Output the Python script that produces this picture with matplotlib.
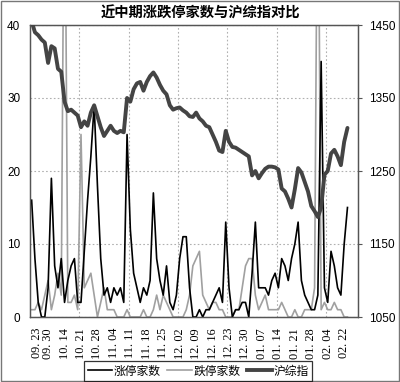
import matplotlib
matplotlib.use('Agg')
import matplotlib.pyplot as plt
import numpy as np
from matplotlib.lines import Line2D
from matplotlib.patches import Rectangle

plt.rcParams['font.family'] = ['Liberation Sans', 'Noto Sans CJK SC', 'DejaVu Sans']

# ---- data ----
date_labels = ['09. 23', '09. 30', '10. 14', '10. 21', '10. 28', '11. 04', '11. 11',
               '11. 18', '11. 25', '12. 02', '12. 09', '12. 16', '12. 23', '12. 30',
               '01. 07', '01. 14', '01. 21', '01. 28', '02. 04', '02. 22']
label_idx = [1.5, 5, 10, 15, 20, 25, 30, 35, 40, 45, 50, 55, 60, 65, 70, 75, 80, 85, 90, 95]

# 涨停家数 (black thin line, left axis)
zt = [16, 8, 2, 0, 0, 4, 19, 7, 4, 8, 2, 5, 7, 8, 2, 2, 9, 16, 22, 29,
      18, 8, 3, 4, 2, 4, 3, 4, 2, 25, 12, 6, 4, 2, 4, 3, 5, 17, 8, 5,
      3, 7, 2, 1, 3, 8, 11, 11, 4, 0, 0, 1, 0, 1, 1, 2, 3, 4, 2, 13,
      4, 0, 1, 1, 2, 2, 0, 6, 13, 4, 4, 4, 3, 5, 6, 4, 8, 7, 5, 8,
      10, 13, 5, 3, 2, 1, 1, 3, 35, 4, 2, 9, 7, 4, 3, 10, 15]

# 跌停家数 (gray thin line, left axis)
dt = [1, 1, 2, 1, 3, 5, 1, 3, 6, 3, 70, 2, 2, 3, 1, 25, 4, 5, 6, 3,
      0, 2, 4, 1, 1, 1, 0, 0, 0, 1, 0, 0, 0, 0, 1, 0, 0, 1, 3, 1,
      3, 2, 1, 0, 0, 0, 0, 1, 3, 7, 8, 9, 3, 2, 1, 2, 2, 1, 1, 0,
      0, 0, 1, 1, 4, 7, 8, 8, 3, 1, 2, 3, 1, 1, 1, 1, 2, 1, 0, 0,
      1, 0, 0, 1, 1, 1, 4, 70, 1, 2, 1, 1, 2, 1, 1, 0, 0]

# 沪综指 (thick dark line, right axis)
szzs = [1455, 1440, 1436, 1430, 1426, 1398, 1421, 1418, 1390, 1386,
        1345, 1332, 1334, 1330, 1326, 1310, 1318, 1312, 1330, 1340,
        1325, 1310, 1298, 1305, 1312, 1305, 1302, 1305, 1303, 1350,
        1345, 1362, 1370, 1372, 1360, 1372, 1380, 1385, 1378, 1368,
        1360, 1355, 1340, 1334, 1336, 1337, 1333, 1330, 1325, 1324,
        1330, 1322, 1318, 1312, 1310, 1300, 1290, 1278, 1276, 1305,
        1290, 1283, 1282, 1279, 1276, 1273, 1270, 1244, 1250, 1240,
        1247, 1253, 1256, 1256, 1255, 1252, 1226, 1222, 1212, 1200,
        1225, 1254, 1248, 1235, 1222, 1202, 1195, 1187, 1200, 1245,
        1250, 1274, 1279, 1270, 1258, 1290, 1309]

left_ticks = [0, 10, 20, 30, 40]
right_ticks = [1050, 1150, 1250, 1350, 1450]
series_names = ['涨停家数', '跌停家数', '沪综指']

# ---- figure ----
fig = plt.figure(figsize=(4.0, 3.82), dpi=100)
ax = fig.add_axes([30 / 400, 1 - 317 / 382, 328 / 400, 292 / 382])
x = np.arange(len(zt))

ax.plot(x, zt, color='black', lw=1.2, zorder=3)
ax.plot(x, dt, color='#a0a0a0', lw=1.2, zorder=2)
ax.set_xlim(-0.5, 99.2)
ax.set_ylim(0, 40)
ax.set_yticks(left_ticks)
ax.set_xticks(label_idx)
ax.set_xticklabels(date_labels, rotation=90, family='Liberation Serif', fontsize=8.8)
ax.set_xticks([14.5, 29.5, 44.5, 59.5, 74.5, 89.5], minor=True)
ax.tick_params(axis='x', which='both', length=0, pad=8)
ax.tick_params(axis='y', length=0, pad=7, labelsize=8.5)
ax.grid(axis='y', which='major', linestyle=(0, (1.5, 2)), color='#b0b0b0', lw=0.8)
ax.grid(axis='x', which='minor', linestyle=(0, (1.5, 2)), color='#b0b0b0', lw=0.8)
ax.grid(axis='x', which='major', visible=False)

ax2 = ax.twinx()
ax2.plot(x, szzs, color='#444444', lw=2.8, solid_joinstyle='round', solid_capstyle='round', zorder=4)
ax2.set_ylim(1050, 1450)
ax2.set_yticks(right_ticks)
ax2.tick_params(axis='y', length=3, pad=5, labelsize=8.5, color='#555555')

for a in (ax, ax2):
    for s in a.spines.values():
        s.set_color('#555555')
        s.set_linewidth(0.9)

# legend
handles = [Line2D([], [], color='black', lw=1.2),
           Line2D([], [], color='#a0a0a0', lw=1.2),
           Line2D([], [], color='#444444', lw=2.8)]
leg = fig.legend(handles, series_names, loc='center', bbox_to_anchor=(198 / 400, 1 - 371 / 382),
                 ncol=3, frameon=True, fancybox=False, edgecolor='black',
                 handlelength=2.1, handletextpad=0.12, columnspacing=0.55, borderpad=0.3,
                 borderaxespad=0, prop={'family': ['Noto Sans CJK SC'], 'size': 8.5})
leg.get_frame().set_linewidth(0.9)

# title
fig.text(200 / 400, 1 - 13 / 382, '近中期涨跌停家数与沪综指对比', ha='center', va='center',
         fontsize=10.3, fontweight='bold', family=['Noto Sans CJK SC'])

# outer frame
fig.patches.append(Rectangle((0.002, 0.002), 0.995, 0.995, transform=fig.transFigure,
                             fill=False, edgecolor='#777777', lw=1.0))

fig.savefig('out.png', dpi=100)
